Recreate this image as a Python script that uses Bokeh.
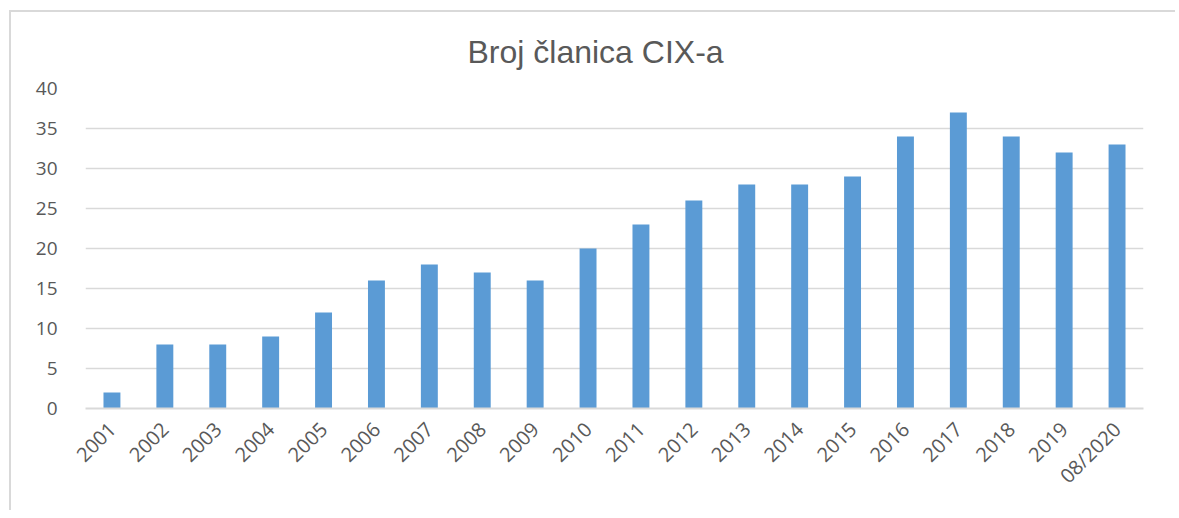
from bokeh.plotting import figure
from bokeh.models import Range1d, FactorRange, FixedTicker, Title, ColumnDataSource
from bokeh.embed import file_html
from bokeh.resources import INLINE
import math

years = ["2001", "2002", "2003", "2004", "2005", "2006", "2007", "2008", "2009", "2010",
         "2011", "2012", "2013", "2014", "2015", "2016", "2017", "2018", "2019", "08/2020"]
members = [2, 8, 8, 9, 12, 16, 18, 17, 16, 20, 23, 26, 28, 28, 29, 34, 37, 34, 32, 33]
y_ticks = [0, 5, 10, 15, 20, 25, 30, 35, 40]
title_text = "Broj članica CIX-a"

src = ColumnDataSource(dict(x=years, y=members))

p = figure(width=1166, height=500, output_backend="svg", toolbar_location=None,
           x_range=FactorRange(*years, range_padding=0), y_range=Range1d(0, 40),
           min_border_left=74, min_border_right=34, min_border_top=76, min_border_bottom=104,
           styles={"margin-left": "9px", "margin-top": "10px",
                   "border-left": "2px solid #d9d9d9", "border-top": "2px solid #d9d9d9"})
p.outline_line_color = None
p.background_fill_color = "white"
p.border_fill_color = "white"

p.vbar(x="x", top="y", width=0.32, source=src, fill_color="#5B9BD5", line_color=None)

p.xgrid.grid_line_color = None
p.ygrid.grid_line_color = "#d9d9d9"
p.ygrid.grid_line_width = 1.3
p.ygrid.ticker = FixedTicker(ticks=y_ticks)

p.yaxis.ticker = FixedTicker(ticks=y_ticks)
p.yaxis.axis_line_color = None
p.yaxis.major_tick_line_color = None
p.yaxis.minor_tick_line_color = None
p.yaxis.major_label_standoff = 22
p.yaxis.major_label_text_font = "Open Sans"
p.yaxis.major_label_text_font_size = "19px"
p.yaxis.major_label_text_color = "#595959"

p.xaxis.axis_line_color = "#d9d9d9"
p.xaxis.axis_line_width = 2
p.xaxis.major_tick_line_color = None
p.xaxis.minor_tick_line_color = None
p.xaxis.major_label_orientation = math.pi / 4
p.xaxis.major_label_standoff = 11
p.xaxis.major_label_text_font = "Open Sans"
p.xaxis.major_label_text_font_size = "20px"
p.xaxis.major_label_text_color = "#595959"

t = Title(text=title_text, align="left", offset=382, standoff=37,
          text_font="Liberation Sans", text_font_size="32px", text_font_style="normal",
          text_color="#595959")
p.add_layout(t, "above")

open("out.html", "w").write(file_html(p, INLINE))
